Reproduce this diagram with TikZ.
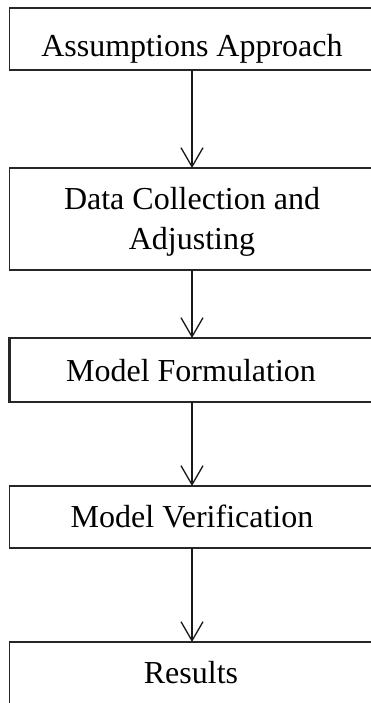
\documentclass[tikz,border=0pt]{standalone}
\usepackage{fontspec}
\setmainfont{Liberation Serif}
\usetikzlibrary{arrows.meta}
\begin{document}
\begin{tikzpicture}[x=1pt,y=-1pt,
  box/.style={draw=black!85,line width=1.8pt,minimum width=365pt,inner sep=0pt,outer sep=0pt},
  lbl/.style={anchor=base,inner sep=0pt,font=\fontsize{32}{39}\selectfont},
  arr/.style={draw=black!90,line width=1.3pt,-{Straight Barb[length=19pt,width=22pt,line width=1.3pt]}}]
\clip (0,0) rectangle (371,703);
\fill[white] (0,0) rectangle (371,703);
\node[box,minimum height=62pt] (b1) at (192,39) {};
\node[box,minimum height=102pt] (b2) at (192,219) {};
\node[box,minimum height=64pt,line width=2.4pt] (b3) at (192,370) {};
\node[box,minimum height=62pt] (b4) at (192,517) {};
\node[box,minimum height=72pt] (b5) at (192,678) {};
\node[lbl] (t1) at (192,57) {Assumptions Approach};
\node[lbl] (t2a) at (192,210) {Data Collection and};
\node[lbl] (t2b) at (192,249) {Adjusting};
\node[lbl] (t3) at (191,381) {Model Formulation};
\node[lbl] (t4) at (192,527) {Model Verification};
\node[lbl] (t5) at (191,683) {Results};
\draw[arr] (b1.south) -- (b2.north);
\draw[arr] (b2.south) -- (b3.north);
\draw[arr] (b3.south) -- (b4.north);
\draw[arr] (b4.south) -- (b5.north);
\end{tikzpicture}
\end{document}
